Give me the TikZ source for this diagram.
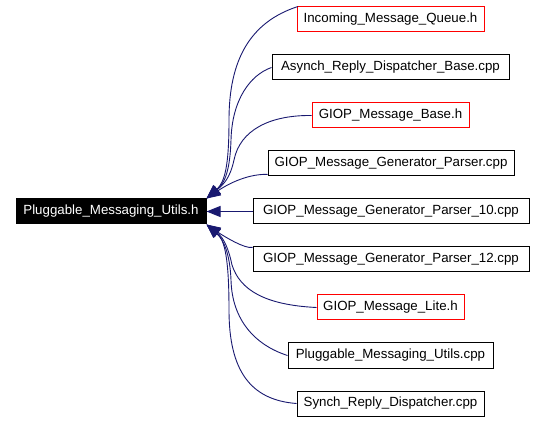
\documentclass[tikz,border=0pt]{standalone}
\usepackage{fontspec}
\setmainfont{Liberation Sans}
\usetikzlibrary{arrows.meta}
\definecolor{edgeblue}{RGB}{25,25,112}
\begin{document}
\begin{tikzpicture}[x=1pt,y=-1pt,
  box/.style={draw=black,line width=1pt,minimum height=25pt,inner sep=0pt,font=\fontsize{13.3}{16}\selectfont,fill=white},
  redbox/.style={box,draw=red},
  mainbox/.style={box,fill=black,text=white},
  dep/.style={draw=edgeblue,line width=0.9pt,{Triangle[length=14pt,width=11pt]}-}]
\useasboundingbox (0,0) rectangle (544,422);
\node[mainbox,minimum width=190pt] (main) at (111,211.5) {Pluggable\_Messaging\_Utils.h};
\node[redbox,minimum width=187pt] (n1) at (390.5,19.5) {Incoming\_Message\_Queue.h};
\node[box,minimum width=237pt] (n2) at (390.5,67.5) {Asynch\_Reply\_Dispatcher\_Base.cpp};
\node[redbox,minimum width=157pt] (n3) at (390.5,115.5) {GIOP\_Message\_Base.h};
\node[box,minimum width=246pt] (n4) at (391,163.5) {GIOP\_Message\_Generator\_Parser.cpp};
\node[box,minimum width=276pt] (n5) at (391,211.5) {GIOP\_Message\_Generator\_Parser\_10.cpp};
\node[box,minimum width=276pt] (n6) at (391,259.5) {GIOP\_Message\_Generator\_Parser\_12.cpp};
\node[redbox,minimum width=147pt] (n7) at (390.5,307.5) {GIOP\_Message\_Lite.h};
\node[box,minimum width=205pt] (n8) at (390.5,355.5) {Pluggable\_Messaging\_Utils.cpp};
\node[box,minimum width=187pt] (n9) at (390.5,403.5) {Synch\_Reply\_Dispatcher.cpp};
\draw[dep] (main.north east) .. controls (225,182) and (229,165) .. (229,120) .. controls (229,60) and (250,22) .. (n1.172);
\draw[dep] (main.north east) .. controls (225,183) and (230,170) .. (231,140) .. controls (232,100) and (250,75) .. (n2.west);
\draw[dep] (main.north east) .. controls (224,184) and (230,178) .. (234,160) .. controls (240,130) and (270,115) .. (n3.west);
\draw[dep] (main.north east) .. controls (225,186) and (245,174) .. (n4.185);
\draw[dep] (main.east) -- (n5.west);
\draw[dep] (main.south east) .. controls (225,237) and (245,249) .. (n6.175);
\draw[dep] (main.south east) .. controls (224,238) and (229,250) .. (232,265) .. controls (240,290) and (265,305) .. (n7.west);
\draw[dep] (main.south east) .. controls (224,240) and (230,255) .. (231,280) .. controls (232,320) and (255,345) .. (n8.west);
\draw[dep] (main.south east) .. controls (225,240) and (229,260) .. (229,310) .. controls (229,370) and (250,400) .. (n9.west);
\end{tikzpicture}
\end{document}
